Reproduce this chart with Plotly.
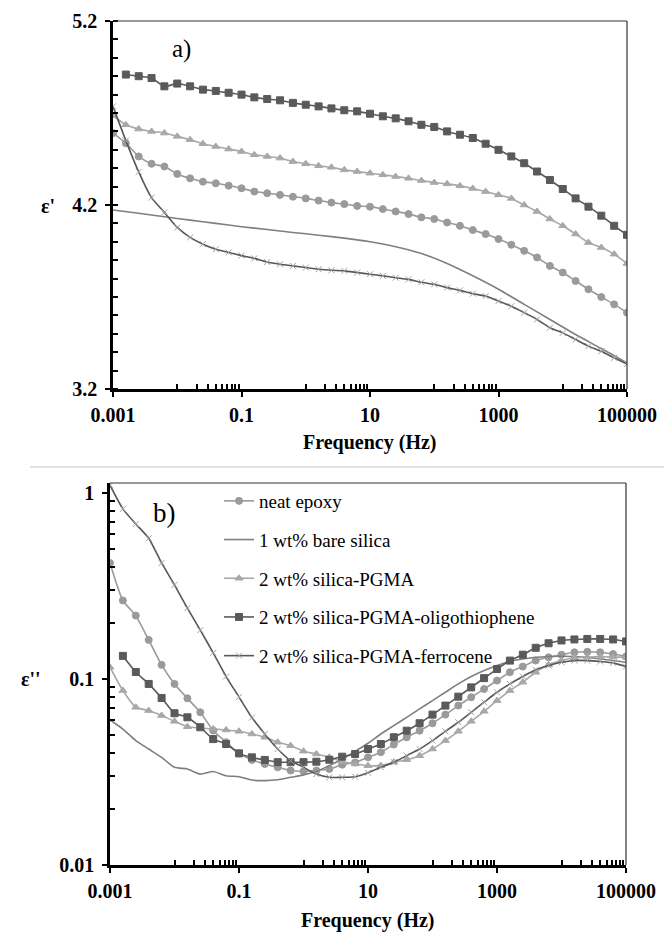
import plotly.graph_objects as go

# ---------------- data ----------------
freq = [0.001, 0.001585, 0.002512, 0.003981, 0.00631, 0.01, 0.01585, 0.02512, 0.03981, 0.0631,
        0.1, 0.1585, 0.2512, 0.3981, 0.631, 1, 1.585, 2.512, 3.981, 6.31,
        10, 15.85, 25.12, 39.81, 63.1, 100, 158.5, 251.2, 398.1, 631,
        1000, 1585, 2512, 3981, 6310, 10000, 15850, 25120, 39810, 63100, 100000]
freq_olig = freq[1:]
freq_bare_a = [0.001, 0.002512, 0.00631, 0.01585, 0.03981, 0.1, 0.2512, 0.631, 1.585, 3.981,
               10, 25.12, 63.1, 158.5, 398.1, 1000, 2512, 6310, 15850, 39810, 100000]

names = ["neat epoxy", "1 wt% bare silica", "2 wt% silica-PGMA",
         "2 wt% silica-PGMA-oligothiophene", "2 wt% silica-PGMA-ferrocene"]

# panel a) epsilon'
a_epoxy = [4.591, 4.536, 4.464, 4.424, 4.409, 4.369, 4.345, 4.327, 4.318, 4.305,
           4.291, 4.273, 4.264, 4.255, 4.245, 4.236, 4.224, 4.213, 4.205, 4.195,
           4.191, 4.178, 4.165, 4.151, 4.133, 4.124, 4.105, 4.087, 4.064, 4.042,
           4.015, 3.984, 3.951, 3.915, 3.869, 3.833, 3.787, 3.742, 3.700, 3.660, 3.615]
a_bare = [4.173, 4.155, 4.136, 4.118, 4.100, 4.082, 4.067, 4.051, 4.036, 4.020,
          4.000, 3.973, 3.936, 3.882, 3.815, 3.742, 3.660, 3.578, 3.496, 3.420, 3.342]
a_pgma = [4.685, 4.636, 4.613, 4.600, 4.591, 4.573, 4.555, 4.533, 4.518, 4.504,
          4.491, 4.473, 4.464, 4.455, 4.436, 4.424, 4.413, 4.405, 4.391, 4.382,
          4.373, 4.364, 4.355, 4.345, 4.333, 4.322, 4.315, 4.304, 4.290, 4.273,
          4.255, 4.236, 4.200, 4.165, 4.124, 4.087, 4.042, 3.996, 3.969, 3.933, 3.882]
a_olig = [4.909, 4.900, 4.890, 4.845, 4.860, 4.845, 4.827, 4.820, 4.810, 4.800,
          4.785, 4.776, 4.769, 4.755, 4.745, 4.736, 4.725, 4.715, 4.709, 4.696,
          4.682, 4.671, 4.655, 4.636, 4.624, 4.600, 4.582, 4.564, 4.533, 4.500,
          4.464, 4.427, 4.382, 4.336, 4.287, 4.236, 4.191, 4.142, 4.087, 4.038]
a_ferro = [4.736, 4.550, 4.380, 4.240, 4.160, 4.078, 4.024, 3.987, 3.960, 3.942,
           3.925, 3.910, 3.890, 3.878, 3.869, 3.860, 3.851, 3.845, 3.842, 3.833,
           3.824, 3.815, 3.805, 3.796, 3.780, 3.769, 3.751, 3.736, 3.718, 3.705,
           3.678, 3.650, 3.615, 3.578, 3.533, 3.505, 3.469, 3.433, 3.405, 3.369, 3.336]

# panel b) epsilon''
b_epoxy = [0.420, 0.264, 0.219, 0.162, 0.119, 0.094, 0.0787, 0.0662, 0.0528, 0.0457,
           0.0398, 0.0367, 0.0349, 0.0335, 0.0322, 0.0319, 0.0322, 0.0328, 0.0346, 0.0356,
           0.0379, 0.0404, 0.0444, 0.0486, 0.0527, 0.0578, 0.0643, 0.0719, 0.0797, 0.0883,
           0.0980, 0.1087, 0.1165, 0.1255, 0.1307, 0.1350, 0.1390, 0.1400, 0.1390, 0.1360, 0.1320]
b_bare = [0.0602, 0.0538, 0.0466, 0.0420, 0.0379, 0.0335, 0.0328, 0.0308, 0.0318, 0.0302,
          0.0298, 0.0286, 0.0284, 0.0287, 0.0296, 0.0305, 0.0319, 0.0342, 0.0371, 0.0408,
          0.0451, 0.0506, 0.0561, 0.0622, 0.0690, 0.0765, 0.0848, 0.0940, 0.1030, 0.1110,
          0.1180, 0.1245, 0.1280, 0.1307, 0.1320, 0.1325, 0.1320, 0.1307, 0.1280, 0.1255, 0.1230]
b_pgma = [0.1156, 0.0866, 0.0704, 0.0676, 0.0636, 0.0592, 0.0554, 0.0545, 0.0538, 0.0532,
          0.0523, 0.0506, 0.0486, 0.0457, 0.0438, 0.0409, 0.0395, 0.0379, 0.0360, 0.0349,
          0.0342, 0.0342, 0.0357, 0.0368, 0.0387, 0.0420, 0.0466, 0.0523, 0.0592, 0.0670,
          0.0765, 0.0866, 0.0960, 0.1086, 0.1190, 0.1255, 0.1300, 0.1310, 0.1320, 0.1310, 0.1310]
b_olig = [0.133, 0.109, 0.094, 0.079, 0.0654, 0.0622, 0.0550, 0.0475, 0.0447,
          0.0398, 0.0379, 0.0367, 0.0357, 0.0357, 0.0357, 0.0359, 0.0368, 0.0382, 0.0395,
          0.0420, 0.0447, 0.0486, 0.0527, 0.0578, 0.0643, 0.0719, 0.0803, 0.0901, 0.1010,
          0.1130, 0.1255, 0.1350, 0.1470, 0.1555, 0.1610, 0.1630, 0.1640, 0.1640, 0.1630, 0.1590]
b_ferro = [1.10, 0.82, 0.68, 0.57, 0.42, 0.32, 0.24, 0.183, 0.138, 0.103,
           0.080, 0.062, 0.0506, 0.042, 0.0364, 0.0335, 0.0308, 0.0296, 0.0296, 0.0298,
           0.0313, 0.0335, 0.0357, 0.0387, 0.0420, 0.0466, 0.0523, 0.0585, 0.0662, 0.0750,
           0.0848, 0.0940, 0.1030, 0.1120, 0.1180, 0.1228, 0.1255, 0.1255, 0.1240, 0.1220, 0.1165]

x_major = [0.001, 0.1, 10, 1000, 100000]
x_major_text = ["0.001", "0.1", "10", "1000", "100000"]
a_y_major = [3.2, 4.2, 5.2]
b_y_major = [0.01, 0.1, 1]

# ---------------- styles ----------------
C_EPOXY = "#9a9a9a"
C_BARE = "#7f7f7f"
C_PGMA = "#a8a8a8"
C_OLIG = "#5a5a5a"
C_FERRO = "#575757"
C_FERRO_M = "#a0a0a0"
FONT = "Times New Roman, Liberation Serif, serif"

W, H = 664, 941

fig = go.Figure()

def add_series(xa, ya, xs, ys, name, color, symbol, msize, mcolor=None, show=False, lw=1.6):
    mode = "lines+markers" if symbol else "lines"
    fig.add_trace(go.Scatter(
        x=xs, y=ys, name=name, xaxis=xa, yaxis=ya, mode=mode,
        line=dict(color=color, width=lw, shape="spline", smoothing=0.6),
        marker=dict(symbol=symbol or "circle", size=msize, color=mcolor or color,
                    line=dict(width=1, color=mcolor or color)),
        showlegend=show, legendgroup=name,
    ))

# panel a
add_series("x", "y", freq, a_epoxy, names[0], C_EPOXY, "circle", 7)
add_series("x", "y", freq_bare_a, a_bare, names[1], C_BARE, None, 0)
add_series("x", "y", freq, a_pgma, names[2], C_PGMA, "triangle-up", 7)
add_series("x", "y", freq_olig, a_olig, names[3], C_OLIG, "square", 7)
add_series("x", "y", freq, a_ferro, names[4], C_FERRO, "x-thin-open", 6, C_FERRO_M)
# panel b
add_series("x2", "y2", freq, b_epoxy, names[0], C_EPOXY, "circle", 7, show=True)
add_series("x2", "y2", freq, b_bare, names[1], C_BARE, None, 0, show=True)
add_series("x2", "y2", freq, b_pgma, names[2], C_PGMA, "triangle-up", 7, show=True)
add_series("x2", "y2", freq_olig, b_olig, names[3], C_OLIG, "square", 7, show=True)
add_series("x2", "y2", freq, b_ferro, names[4], C_FERRO, "x-thin-open", 6, C_FERRO_M, show=True)

# minor tick positions
x_minor = [m * k for m in [0.001, 0.1, 10, 1000] for k in range(10, 100, 10)]
b_y_minor = [m * k for m in [0.01, 0.1, 1] for k in range(2, 10)]

tickfont = dict(family=FONT, size=20, color="black", weight="bold")

def xax(domain):
    return dict(type="log", domain=domain, range=[-3, 5], automargin=False,
                tickvals=x_major, ticktext=x_major_text, ticks="outside",
                ticklen=5, tickwidth=2, tickcolor="black",
                showline=True, linecolor="black", linewidth=2.5,
                showgrid=False, zeroline=False, tickfont=tickfont,
                ticklabelstandoff=1,
                minor=dict(tickvals=x_minor, ticks="inside", ticklen=5,
                           tickwidth=1.5, tickcolor="black", showgrid=False))

def px2paper_x(p):
    return p / W

def px2paper_y(p):
    return 1 - p / H

fig.update_layout(
    width=W, height=H, margin=dict(l=0, r=0, t=0, b=0, autoexpand=False),
    paper_bgcolor="white", plot_bgcolor="white",
    font=dict(family=FONT, color="black"),
    xaxis=dict(**xax([113 / W, 627 / W]), anchor="y"),
    yaxis=dict(domain=[px2paper_y(389), px2paper_y(21)], range=[3.2, 5.2],
               tickvals=a_y_major, ticktext=["3.2", "4.2", "5.2"], automargin=False,
               ticks="outside", ticklen=5, tickwidth=2, tickcolor="black",
               showline=True, linecolor="black", linewidth=2.5,
               showgrid=False, zeroline=False, tickfont=tickfont,
               ticklabelstandoff=4, anchor="x",
               minor=dict(dtick=0.1, tick0=3.2, ticks="inside", ticklen=5,
                          tickwidth=1.5, tickcolor="black", showgrid=False)),
    xaxis2=dict(**xax([110 / W, 626 / W]), anchor="y2"),
    yaxis2=dict(type="log", domain=[px2paper_y(865), px2paper_y(483)], automargin=False,
                range=[-2, 0.053], tickvals=b_y_major, ticktext=["0.01", "0.1", "1"],
                ticks="outside", ticklen=5, tickwidth=2, tickcolor="black",
                showline=True, linecolor="black", linewidth=2.5,
                showgrid=False, zeroline=False, tickfont=tickfont,
                ticklabelstandoff=4, anchor="x2",
                minor=dict(tickvals=b_y_minor, ticks="inside", ticklen=5,
                           tickwidth=1.5, tickcolor="black", showgrid=False)),
    legend=dict(x=px2paper_x(219), y=px2paper_y(482), xanchor="left", yanchor="top",
                font=dict(family=FONT, size=19, color="black"),
                bgcolor="rgba(0,0,0,0)", itemwidth=30, tracegroupgap=11,
                traceorder="grouped"),
)

# frame (top & right) lines
for xr, yr in [("x domain", "y domain"), ("x2 domain", "y2 domain")]:
    fig.add_shape(type="line", xref=xr, yref=yr, x0=0, x1=1, y0=1, y1=1,
                  line=dict(color="#333333", width=1.2))
    fig.add_shape(type="line", xref=xr, yref=yr, x0=1, x1=1, y0=0, y1=1,
                  line=dict(color="#333333", width=1.2))

# separator line
fig.add_shape(type="line", xref="paper", yref="paper", x0=px2paper_x(30), x1=1,
              y0=px2paper_y(467), y1=px2paper_y(467), line=dict(color="#c8c8c8", width=1.2))

boldf = dict(family=FONT, size=20, color="black", weight="bold")
anns = [
    dict(text="Frequency (Hz)", x=px2paper_x(370), y=px2paper_y(442), font=boldf),
    dict(text="Frequency (Hz)", x=px2paper_x(368), y=px2paper_y(920), font=boldf),
    dict(text="ε'", x=px2paper_x(48), y=px2paper_y(206), font=boldf),
    dict(text="ε''", x=px2paper_x(31), y=px2paper_y(679), font=boldf),
    dict(text="a)", x=px2paper_x(181), y=px2paper_y(49), font=dict(family=FONT, size=25, color="black")),
    dict(text="b)", x=px2paper_x(164), y=px2paper_y(513), font=dict(family=FONT, size=27, color="black")),
]
for a in anns:
    fig.add_annotation(xref="paper", yref="paper", showarrow=False,
                       xanchor="center", yanchor="middle", **a)

fig.write_html("out.html", config={"displayModeBar": False},
               post_script="document.body.style.margin='0';document.body.style.overflow='hidden';")
